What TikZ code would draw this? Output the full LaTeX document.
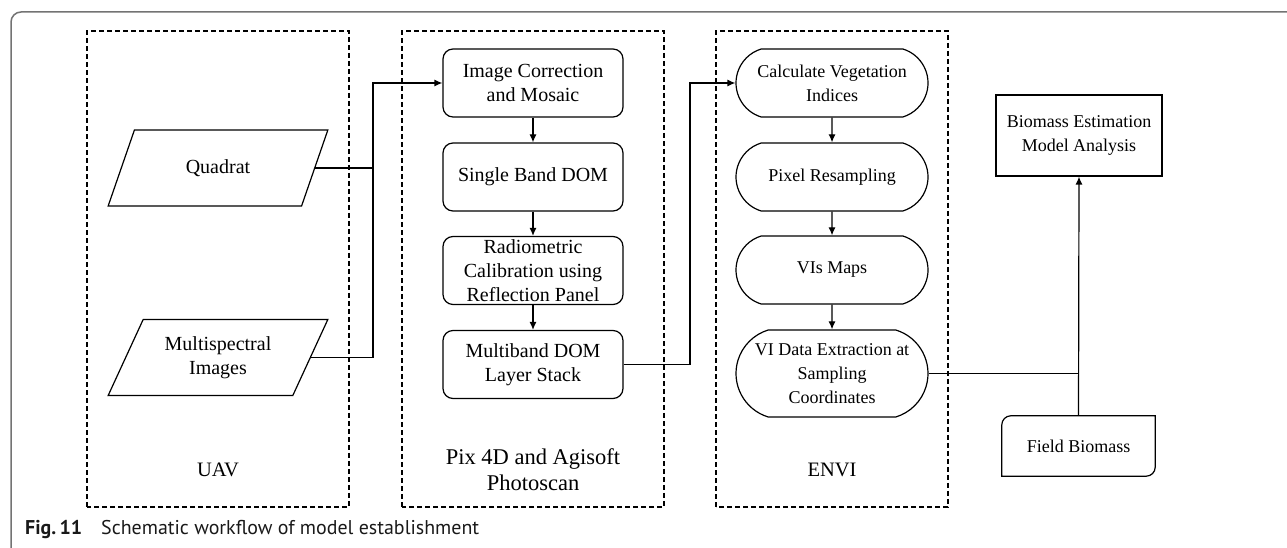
\documentclass[tikz,border=0pt]{standalone}
\usepackage{fontspec}
\setmainfont{Liberation Serif}
\newfontfamily\capfont{PT Sans}
\usetikzlibrary{arrows.meta,shapes.geometric,shapes.misc}
% caption size chosen so the caption sentence runs 378pt
\newlength\captionwd
\AtBeginDocument{%
  \settowidth\captionwd{\capfont\fontsize{20}{24}\selectfont Schematic workflow of model establishment}%
  \pgfmathsetmacro\capsize{20*378/\captionwd}}

\begin{document}
\begin{tikzpicture}[x=1pt,y=1pt,
  font=\fontsize{20}{24}\selectfont,
  every node/.style={align=center, inner sep=0pt},
  smalltext/.style={font=\fontsize{18}{24}\selectfont},
  panel/.style={draw, line width=1.1pt, dash pattern=on 5pt off 3pt},
  panellabel/.style={font=\fontsize{20.5}{26}\selectfont},
  widelabel/.style={font=\fontsize{22.5}{26}\selectfont},
  inputbox/.style={trapezium, draw, line width=1.2pt,
    trapezium left angle=59.4, trapezium right angle=120.6,
    trapezium stretches=true, minimum width=220pt, minimum height=76pt},
  stepbox/.style={rectangle, draw, line width=1.2pt, rounded corners=10pt,
    minimum width=180pt, minimum height=68pt},
  envibox/.style={rounded rectangle, draw, line width=1.2pt, smalltext,
    rounded rectangle arc length=146, minimum width=192pt, minimum height=68pt},
  plainbox/.style={rectangle, draw, line width=1.2pt, smalltext,
    minimum width=166pt, minimum height=81pt},
  captext/.style={anchor=base west, text=black!90,
    font=\capfont\fontsize{\capsize}{\capsize}\selectfont},
  link/.style={line width=1.2pt},
  arrow/.style={link, -{Latex[length=8pt,width=7pt]}}
]
\useasboundingbox (0,0) rectangle (1287,548);

% figure frame
\draw[black!55, line width=1.5pt] (11,0) -- (11,526)
  arc[start angle=180, end angle=90, radius=10pt] -- (1287,536);

% software panels
\draw[panel] (87,41) rectangle (349,517);
\draw[panel] (402,41) rectangle (664,517);
\draw[panel] (716,41) rectangle (948,517);
\node[panellabel] (uavlab) at (218,78) {UAV};
\node[widelabel] (pixlab) at (533,78) {Pix 4D and Agisoft\\Photoscan};
\node[panellabel] (envilab) at (832,78) {ENVI};

% UAV inputs
\node[inputbox] (quad) at (218,380) {Quadrat};
\node[inputbox] (multi) at (218,190.5) {Multispectral\\Images};

% photogrammetry steps
\node[stepbox] (img) at (533,465) {Image Correction\\and Mosaic};
\node[stepbox] (single) at (533,371) {Single Band DOM};
\node[stepbox] (radio) at (533,277.5) {Radiometric\\Calibration using\\Reflection Panel};
\node[stepbox] (multib) at (533,183.5) {Multiband DOM\\Layer Stack};

% ENVI steps
\node[envibox] (calc) at (832,465) {Calculate Vegetation\\Indices};
\node[envibox] (resamp) at (832,371) {Pixel Resampling};
\node[envibox] (maps) at (832,278) {VIs Maps};
\node[envibox, minimum height=87pt] (extract) at (832,174.5)
  {VI Data Extraction at\\Sampling\\Coordinates};

% modelling
\node[plainbox] (model) at (1079,412.5) {Biomass Estimation\\Model Analysis};
\node[smalltext, minimum width=153pt, minimum height=60pt] (field) at (1078.5,102) {Field Biomass};
\draw[line width=1.2pt] (field.south west) -- ([yshift=-9pt]field.north west)
  arc[start angle=180, end angle=90, radius=9pt] -- (field.north east)
  -- ([yshift=9pt]field.south east)
  arc[start angle=0, end angle=-90, radius=9pt] -- cycle;

% bus lines
\coordinate (bus1) at (373,0);
\coordinate (bus2) at (690,0);

% connectors
\draw[link] (multi.east) -| (bus1 |- img.west);
\draw[arrow] (quad.east) -| (bus1 |- img.west) -- (img.west);
\draw[arrow] (img) -- (single);
\draw[arrow] (single) -- (radio);
\draw[arrow] (radio) -- (multib);
\draw[arrow] (multib.east) -| (bus2 |- calc.west) -- (calc.west);
\draw[arrow] (calc) -- (resamp);
\draw[arrow] (resamp) -- (maps);
\draw[arrow] (maps) -- (extract);
\draw[link] (extract.east) -- (extract.east -| field.north);
\draw[arrow] (field.north) -- (model.south);

% caption
\node[captext] (fig) at (25,13) {\textbf{Fig.\,11}};
\node[captext] (cap) at (101,13) {Schematic workflow of model establishment};
\end{tikzpicture}
\end{document}
